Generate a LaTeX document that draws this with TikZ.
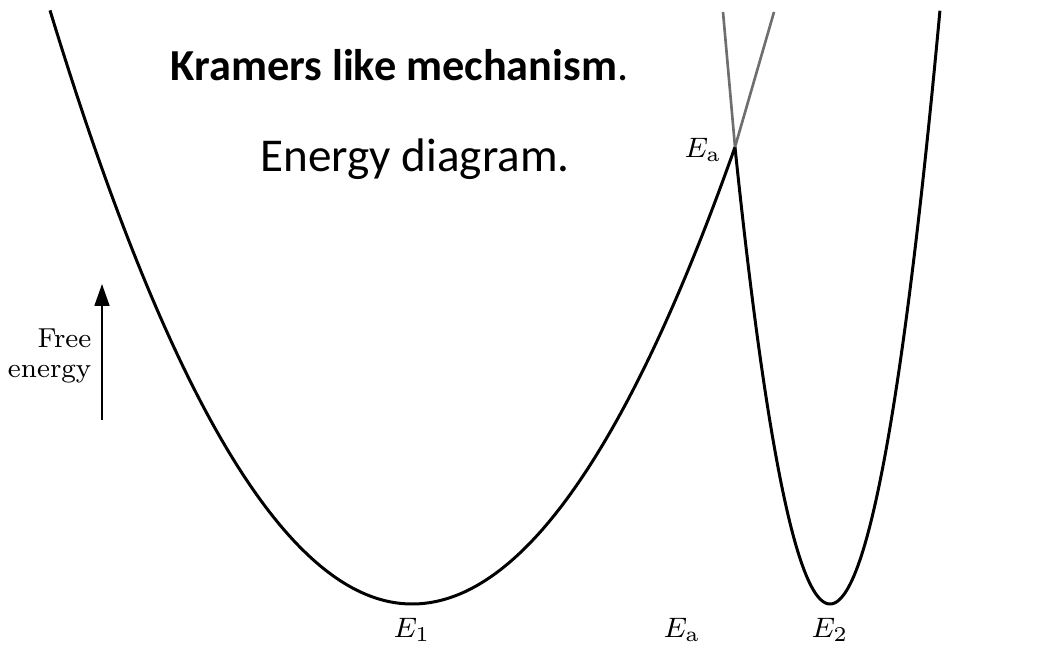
\documentclass[tikz,border=0pt]{standalone}
\usepackage{fontspec}
\setsansfont{Carlito}
\usepackage{tikz}
\usetikzlibrary{positioning, arrows.meta}
\definecolor{ghostgray}{RGB}{110, 110, 110}
\tikzset{
  well/.style={line width=0.85pt, black},
  ghost/.style={line width=0.75pt, ghostgray},
  ttl/.style={font=\sffamily\fontsize{12.6}{15}\selectfont, anchor=base west, inner sep=0pt},
  lvl/.style={font=\fontsize{8}{9.6}\selectfont, inner sep=1pt},
  axarr/.style={-{Triangle[length=2.2mm, width=1.5mm]}, line width=0.5pt},
}
\begin{document}
\begin{tikzpicture}[x=1cm, y=-1cm]
  \useasboundingbox (0,0) rectangle (10.51,6.50);

  % ---- wells ----
  \draw[well] plot[domain=0.50:4.12, samples=80] (\x, {6.04-0.453*(\x-4.12)^2});
  \draw[well] plot[domain=4.12:7.35, samples=80] (\x, {6.04-0.438*(\x-4.12)^2});
  \draw[well] plot[domain=7.35:8.30, samples=60] (\x, {6.04-5.06*(\x-8.30)^2});
  \draw[well] plot[domain=8.30:9.40, samples=60] (\x, {6.04-4.91*(\x-8.30)^2});

  % crossing point and faint continuations
  \coordinate (cross) at (7.35,1.47);
  \coordinate (upL) at (7.23,0.12);
  \coordinate (upR) at (7.74,0.12);
  \draw[ghost] (cross) -- (upL);
  \draw[ghost] (cross) -- (upR);

  % ---- titles ----
  \node[ttl] (title) at (1.70,0.81) {\textbf{Kramers like mechanism}.};
  \node[ttl, font=\sffamily\fontsize{13.4}{16}\selectfont] (subtitle) at (2.60,1.72)
    {Energy diagram.};

  % ---- level labels ----
  \node[lvl] (eatop) at (7.03,1.50) {$E_{\mathrm{a}}$};
  \node[lvl] (e1) at (4.12,6.30) {$E_1$};
  \node[lvl] (eabot) at (6.82,6.30) {$E_{\mathrm{a}}$};
  \node[lvl] (e2) at (8.30,6.30) {$E_2$};

  % ---- axis ----
  \coordinate (axlo) at (1.02,4.20);
  \coordinate (axhi) at (1.02,2.84);
  \draw[axarr] (axlo) -- (axhi);
  \node[lvl, anchor=east, align=right, inner sep=0pt,
        font=\fontsize{7.8}{8.3}\selectfont] (fe) at (0.92,3.56)
    {Free\\energy};
\end{tikzpicture}
\end{document}
